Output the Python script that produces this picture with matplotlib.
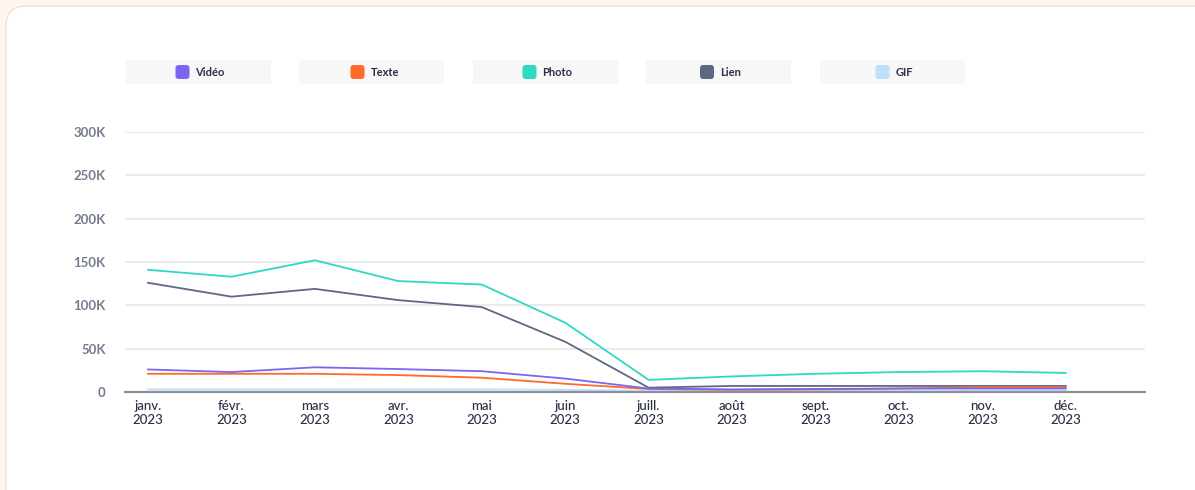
import matplotlib.pyplot as plt
from matplotlib.patches import FancyBboxPatch, Rectangle
from matplotlib.ticker import FuncFormatter

months = ["janv.\n2023", "févr.\n2023", "mars\n2023", "avr.\n2023", "mai\n2023", "juin\n2023",
          "juill.\n2023", "août\n2023", "sept.\n2023", "oct.\n2023", "nov.\n2023", "déc.\n2023"]

# monthly values, in thousands
video = [26, 23, 28.5, 26.5, 24, 15.5, 4, 3, 3.5, 4, 4, 4]
texte = [21, 21, 21, 19.5, 16.5, 9.5, 3.5, 2.5, 3, 4, 5.5, 5.5]
photo = [141, 133, 152, 128, 124, 80, 14, 18, 21, 23, 24, 22]
lien = [126, 110, 119, 106, 98, 58, 5, 7, 7, 7, 7, 7]
gif = [3, 3, 3, 3, 3, 2.5, 1.5, 1.5, 1.5, 1.5, 1.5, 1.5]

names = ["Vidéo", "Texte", "Photo", "Lien", "GIF"]
colors = ["#7b66f2", "#ff6a2b", "#2ed8c3", "#5d6982", "#bfdff9"]
series = [video, texte, photo, lien, gif]

plt.rcParams["font.family"] = ["Lato", "DejaVu Sans"]

W, H = 1195, 490
fig = plt.figure(figsize=(W / 100, H / 100), dpi=100)
fig.patch.set_facecolor("#fdf5ee")

# background layer in pixel coordinates: card and legend chips
bg = fig.add_axes([0, 0, 1, 1], zorder=-1)
bg.set_xlim(0, W)
bg.set_ylim(H, 0)
bg.axis("off")
bg.add_patch(FancyBboxPatch((6, 6), W + 40, H + 40,
                            boxstyle="round,pad=0,rounding_size=20",
                            facecolor="white", edgecolor="#f8e2d4", linewidth=1.2))

for i, (name, col) in enumerate(zip(names, colors)):
    bx = 126 + i * 173.5
    bg.add_patch(Rectangle((bx, 60), 145, 24, facecolor="#f7f7f7", edgecolor="none"))
    text_w = [26, 23, 26, 18, 14][i]
    start = bx + 72.5 - (20 + text_w) / 2
    bg.add_patch(FancyBboxPatch((start, 65), 14, 14,
                                boxstyle="round,pad=0,rounding_size=3",
                                facecolor=col, edgecolor="none"))
    bg.text(start + 20, 72, name, fontsize=8, color="#2b3046",
            fontweight="bold", va="center", ha="left")

ax = fig.add_axes([125 / W, (H - 392) / H, 1020 / W, 260 / H])
ax.set_facecolor("none")

x = list(range(len(months)))
# draw GIF first so the other lines sit on top
for name, col, vals in reversed(list(zip(names, colors, series))):
    ax.plot(x, [v * 1000 for v in vals], color=col, linewidth=1.3, solid_joinstyle="round")

ax.set_xlim(-0.276, 11.95)
ax.set_ylim(0, 300000)
ax.set_yticks(range(0, 300001, 50000))
ax.yaxis.set_major_formatter(FuncFormatter(lambda v, p: "0" if v == 0 else f"{int(v / 1000)}K"))
ax.set_xticks(x)
ax.set_xticklabels(months)
ax.grid(axis="y", color="#ebebeb", linewidth=1.4)
ax.set_axisbelow(True)
for s in ["top", "right", "left"]:
    ax.spines[s].set_visible(False)
ax.spines["bottom"].set_color("#8c909c")
ax.spines["bottom"].set_linewidth(1.6)
ax.tick_params(axis="y", length=0, pad=14, labelsize=9.5, labelcolor="#737b8e")
ax.tick_params(axis="x", length=0, pad=6, labelsize=9.5, labelcolor="#2b3046")
for lbl in ax.get_yticklabels():
    lbl.set_fontweight("bold")
for lbl in ax.get_xticklabels():
    lbl.set_fontweight("medium")
    lbl.set_linespacing(1.2)

fig.savefig("out.png", dpi=100, facecolor=fig.get_facecolor())
